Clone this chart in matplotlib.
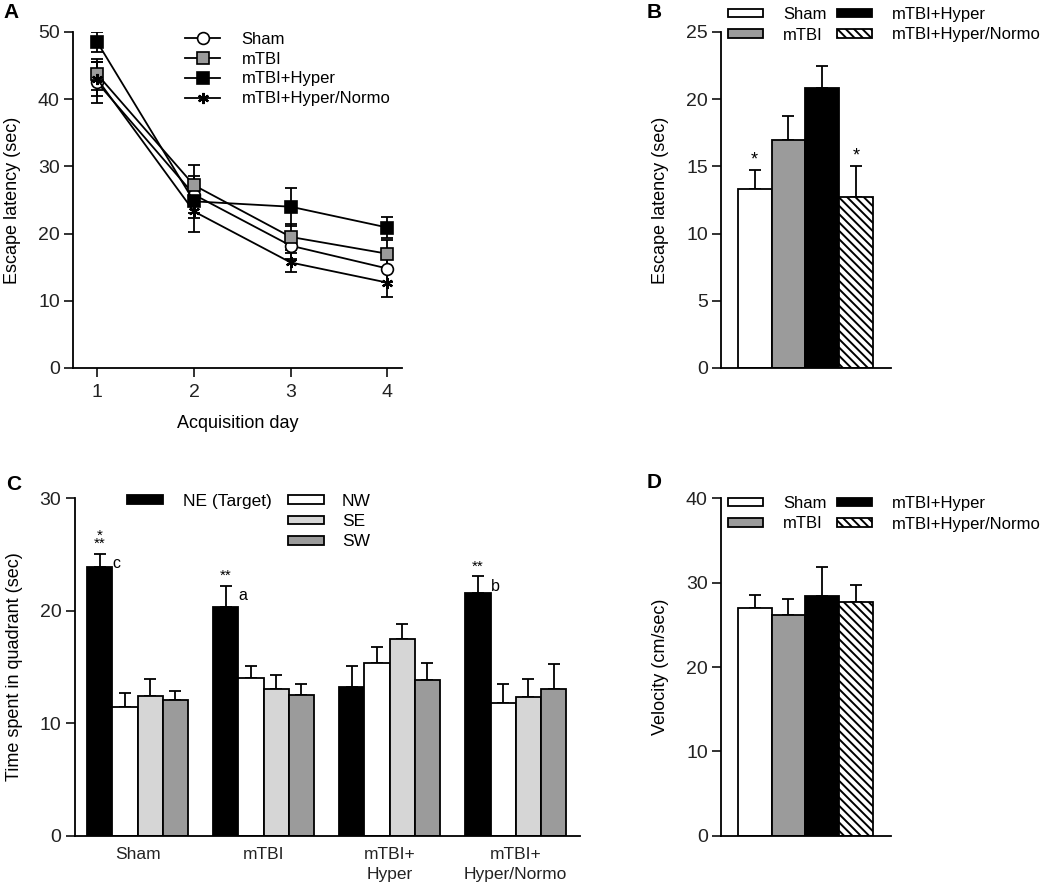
"""Four-panel figure: escape latency, probe trial quadrant time and swim velocity"""

import matplotlib.pyplot as plt
import numpy as np
from matplotlib.patches import Patch

plt.rcParams['font.family'] = ['Liberation Sans', 'DejaVu Sans']
plt.rcParams['hatch.linewidth'] = 1.4

# groups
GROUPS = ["Sham", "mTBI", "mTBI+Hyper", "mTBI+Hyper/Normo"]

# panel A: acquisition days
days = [1, 2, 3, 4]
lat_sham = [42.5, 25.8, 18.2, 14.8]
lat_mtbi = [43.7, 27.2, 19.5, 17.0]
lat_hyper = [48.5, 24.8, 24.0, 20.9]
lat_normo = [43.0, 23.3, 15.7, 12.7]
err_sham = [3.0, 2.8, 2.0, 2.0]
err_mtbi = [2.3, 3.0, 2.0, 2.0]
err_hyper = [1.5, 2.5, 2.8, 1.6]
err_normo = [2.5, 3.0, 1.4, 2.2]

# panel B: mean escape latency
latB = [13.3, 17.0, 20.85, 12.7]
latB_err = [1.4, 1.75, 1.65, 2.3]

# panel C: time in quadrant
QUADS = ["NE (Target)", "NW", "SE", "SW"]
C_LABELS = ["Sham", "mTBI", "mTBI+\nHyper", "mTBI+\nHyper/Normo"]
quad_ne = [23.9, 20.3, 13.2, 21.6]
quad_nw = [11.4, 14.0, 15.4, 11.8]
quad_se = [12.4, 13.0, 17.5, 12.3]
quad_sw = [12.1, 12.5, 13.8, 13.0]
quad_ne_err = [1.15, 1.9, 1.9, 1.45]
quad_nw_err = [1.25, 1.1, 1.4, 1.7]
quad_se_err = [1.55, 1.3, 1.3, 1.65]
quad_sw_err = [0.75, 1.0, 1.6, 2.25]

# panel D: velocity
vel = [27.0, 26.2, 28.4, 27.7]
vel_err = [1.5, 1.9, 3.4, 2.0]

TICK_FS = 14
LAB_FS = 13
LEG_FS = 12
BAR_FACE = ["white", "#9b9b9b", "black", "white"]
BAR_HATCH = [None, None, None, "\\\\\\\\"]
W, H = 1050, 889


def style_axes(ax):
    for s in ["top", "right"]:
        ax.spines[s].set_visible(False)
    for s in ["left", "bottom"]:
        ax.spines[s].set_linewidth(1.3)
    ax.tick_params(direction="out", length=6.5, width=1.3, labelsize=TICK_FS,
                   colors="#222222", pad=3)
    ax.tick_params(axis="x", pad=5)


def px_axes(left, right, bottom, top):
    # rectangle given in picture pixels (from top-left corner)
    return fig.add_axes([left / W, 1 - bottom / H, (right - left) / W, (bottom - top) / H])


fig = plt.figure(figsize=(10.5, 8.89), dpi=100)

# ---------------- A ----------------
axA = px_axes(73, 402, 368, 32)
series = [
    (lat_sham, err_sham, dict(marker="o", mfc="white", ms=8.5)),
    (lat_mtbi, err_mtbi, dict(marker="s", mfc="#9b9b9b", ms=8)),
    (lat_hyper, err_hyper, dict(marker="s", mfc="black", ms=8)),
    (lat_normo, err_normo, dict(marker=(6, 2, 0), mfc="black", ms=8, mew=1.6)),
]
handles = []
for (vals, errs, mk), name in zip(series, GROUPS):
    axA.errorbar(days, vals, yerr=errs, fmt="none", ecolor="black", elinewidth=1.3,
                 capsize=4, capthick=1.3, zorder=1)
    ln, = axA.plot(days, vals, color="black", lw=1.3, mec="black", mew=mk.pop("mew", 1.2),
                   label=name, zorder=3, **mk)
    handles.append(ln)
axA.set_xlim(0.75, 4.15)
axA.set_ylim(0, 50)
axA.set_xticks(days)
axA.set_yticks([0, 10, 20, 30, 40, 50])
axA.set_xlabel("Acquisition day", fontsize=LAB_FS, labelpad=10)
axA.set_ylabel("Escape latency (sec)", fontsize=LAB_FS, labelpad=12)
style_axes(axA)
fig.legend(handles, GROUPS, loc="upper left", bbox_to_anchor=(185 / W, 1 - 31.5 / H),
           frameon=False, fontsize=LEG_FS, handlelength=2.1, labelspacing=0.3,
           handletextpad=1.3, borderpad=0, borderaxespad=0)


# ---------------- B and D ----------------
def group_bars(ax, vals, errs, ylim, yticks, ylabel, leg_top):
    x = np.arange(len(vals))
    ax.bar(x, vals, width=1.0, color=BAR_FACE, edgecolor="black", linewidth=1.3,
           hatch=BAR_HATCH, zorder=2)
    ax.errorbar(x, vals, yerr=[np.zeros(len(vals)), errs], fmt="none", ecolor="black",
                elinewidth=1.3, capsize=4, capthick=1.3, zorder=1)
    ax.set_xlim(-1.0, 4.04)
    ax.set_ylim(*ylim)
    ax.set_yticks(yticks)
    ax.set_xticks([])
    ax.set_ylabel(ylabel, fontsize=LAB_FS, labelpad=12)
    style_axes(ax)
    hs = [Patch(facecolor=BAR_FACE[i], edgecolor="black", hatch=BAR_HATCH[i], linewidth=1.3)
          for i in range(4)]
    fig.legend(hs, GROUPS, loc="upper left", bbox_to_anchor=(728 / W, 1 - leg_top / H),
               ncol=2, frameon=False, fontsize=LEG_FS, handlelength=2.1, handleheight=0.4,
               labelspacing=0.33, handletextpad=1.2, columnspacing=0.62, borderpad=0,
               borderaxespad=0)
    return x


axB = px_axes(721, 891, 368, 32)
xb = group_bars(axB, latB, latB_err, (0, 25), [0, 5, 10, 15, 20, 25],
                "Escape latency (sec)", 7)
for i in [0, 3]:
    axB.text(xb[i], latB[i] + latB_err[i] + 0.15, "*", ha="center", va="bottom", fontsize=13)

axD = px_axes(721, 891, 835.7, 498.3)
group_bars(axD, vel, vel_err, (0, 40), [0, 10, 20, 30, 40], "Velocity (cm/sec)", 496)

# ---------------- C ----------------
axC = px_axes(74.6, 580, 835.7, 498.3)
quad_vals = [quad_ne, quad_nw, quad_se, quad_sw]
quad_errs = [quad_ne_err, quad_nw_err, quad_se_err, quad_sw_err]
quad_cols = ["black", "white", "#d6d6d6", "#9b9b9b"]
base = np.arange(len(C_LABELS)) * 5
qh = []
for q in range(4):
    xq = base + q
    b = axC.bar(xq, quad_vals[q], width=1.0, color=quad_cols[q], edgecolor="black",
                linewidth=1.3, label=QUADS[q], zorder=2)
    qh.append(b)
    axC.errorbar(xq, quad_vals[q], yerr=[np.zeros(4), quad_errs[q]], fmt="none",
                 ecolor="black", elinewidth=1.3, capsize=4, capthick=1.3, zorder=1)
axC.set_xlim(-1.0, 19.05)
axC.set_ylim(0, 30)
axC.set_yticks([0, 10, 20, 30])
axC.set_xticks(base + 1.5)
style_axes(axC)
axC.set_xticklabels(C_LABELS, fontsize=12.5, linespacing=1.45)
axC.set_ylabel("Time spent in quadrant (sec)", fontsize=LAB_FS, labelpad=12)
axC.tick_params(axis="x", length=0, pad=8)

# significance marks over the target bars
marks = {0: ("*\n**", "c"), 1: ("**", "a"), 3: ("**", "b")}
for g, (stars, letter) in marks.items():
    top = quad_ne[g] + quad_ne_err[g]
    axC.text(base[g], top + 0.25, stars, ha="center", va="bottom", fontsize=11,
             linespacing=0.5)
    axC.text(base[g] + 0.5, top - 0.2, letter, ha="left", va="top", fontsize=11.5)

fig.legend([qh[0]], [QUADS[0]], loc="upper left", bbox_to_anchor=(127 / W, 1 - 494 / H),
           frameon=False, fontsize=12.5, handlelength=2.07, handleheight=0.45,
           handletextpad=1.15, borderpad=0, borderaxespad=0)
fig.legend(qh[1:], QUADS[1:], loc="upper left", bbox_to_anchor=(288 / W, 1 - 494 / H),
           frameon=False, fontsize=12.5, handlelength=2.1, handleheight=0.4,
           labelspacing=0.3, handletextpad=1.0, borderpad=0, borderaxespad=0)

# panel letters
for lab, (lx, ly) in zip("ABCD", [(3, 3), (647, 3), (6, 475), (647, 473)]):
    fig.text(lx / W, 1 - ly / H, lab, fontsize=15, fontweight="bold", va="top", ha="left")

fig.savefig("out.png", dpi=100)
